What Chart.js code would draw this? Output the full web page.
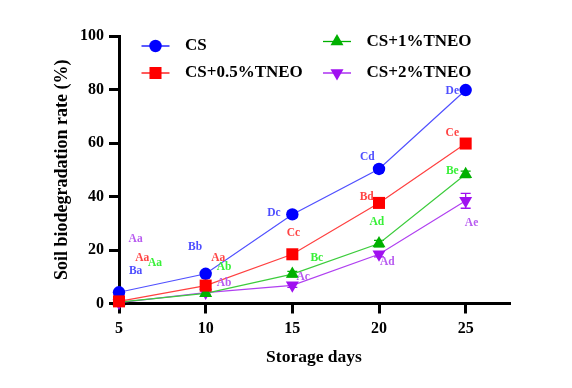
<!DOCTYPE html>
<html>
<head>
<meta charset="utf-8">
<script src="https://cdn.jsdelivr.net/npm/chart.js@4.4.1/dist/chart.umd.min.js"></script>
<style>
  html, body { margin: 0; padding: 0; background: #fff; }
  #wrap { width: 572px; height: 388px; }
</style>
</head>
<body>
<div id="wrap"><canvas id="chart" width="572" height="388"></canvas></div>
<script>
// storage days on the x axis
const days = [5, 10, 15, 20, 25];
const xTicks = [5, 10, 15, 20, 25];
const yTicks = [0, 20, 40, 60, 80, 100];

const seriesNames = ['CS', 'CS+0.5%TNEO', 'CS+1%TNEO', 'CS+2%TNEO'];

// soil biodegradation rate (%)
const csVals   = [4.2, 11.1, 33.3, 50.3, 79.8];
const cs05Vals = [0.8, 6.7, 18.4, 37.6, 59.8];
const cs1Vals  = [0.5, 3.8, 11.0, 22.4, 48.3];
const cs2Vals  = [0.3, 4.1, 6.8, 18.4, 38.4];

// standard deviations (mostly hidden under the markers)
const csErr   = [0.8, 1.0, 1.2, 1.2, 1.0];
const cs05Err = [0.5, 1.0, 1.0, 1.2, 1.2];
const cs1Err  = [0.3, 0.8, 1.0, 1.2, 1.2];
const cs2Err  = [0.2, 0.6, 0.8, 1.0, 2.8];

// significance letters: [text, day, rate]
const csLetters   = [['Ba', 5.96, 12.2], ['Bb', 9.39, 21.0], ['Dc', 13.94, 33.7], ['Cd', 19.33, 54.6], ['De', 24.23, 79.5]];
const cs05Letters = [['Aa', 6.34, 16.9], ['Aa', 10.73, 16.9], ['Cc', 15.06, 26.2], ['Bd', 19.29, 39.9], ['Ce', 24.23, 63.8]];
const cs1Letters  = [['Aa', 7.08, 15.0], ['Ab', 11.06, 13.5], ['Bc', 16.41, 17.1], ['Ad', 19.87, 30.5], ['Be', 24.23, 49.5]];
const cs2Letters  = [['Aa', 5.96, 24.0], ['Ab', 11.06, 7.8], ['Ac', 15.63, 10.0], ['Ad', 20.48, 15.6], ['Ae', 25.34, 30.2]];

const SERIF = "'Liberation Serif', 'Times New Roman', serif";

const styles = [
  { line: '#5050ff', mark: '#0000ff', text: '#4e4eff', shape: 'circle',   r: 6.2, rot: 0,   order: 1 },
  { line: '#ff4040', mark: '#ff0000', text: '#ff4444', shape: 'rect',     r: 8.5, rot: 0,   order: 0 },
  { line: '#3ccc3c', mark: '#00b000', text: '#38f038', shape: 'triangle', r: 7.5, rot: 0,   order: 2 },
  { line: '#b040f0', mark: '#a010f0', text: '#b85cf0', shape: 'triangle', r: 7.5, rot: 180, order: 3 }
];
const allVals = [csVals, cs05Vals, cs1Vals, cs2Vals];
const allErr = [csErr, cs05Err, cs1Err, cs2Err];
const allLetters = [csLetters, cs05Letters, cs1Letters, cs2Letters];

const datasets = seriesNames.map((name, i) => ({
  label: name,
  data: days.map((d, k) => ({ x: d, y: allVals[i][k] })),
  borderColor: styles[i].line,
  borderWidth: 1.2,
  backgroundColor: styles[i].mark,
  pointBackgroundColor: styles[i].mark,
  pointBorderColor: styles[i].mark,
  pointBorderWidth: 0,
  pointStyle: styles[i].shape,
  pointRadius: styles[i].r,
  pointRotation: styles[i].rot,
  tension: 0,
  clip: false,
  order: styles[i].order
}));

function marker(ctx, st, x, y) {
  ctx.save();
  ctx.fillStyle = st.mark;
  ctx.strokeStyle = st.mark;
  Chart.helpers.drawPoint(ctx, { pointStyle: st.shape, radius: st.r, rotation: st.rot, borderWidth: 0 }, x, y);
  ctx.restore();
}

const errorBars = {
  id: 'errorBars',
  beforeDatasetsDraw(chart) {
    const { ctx, scales: { x, y } } = chart;
    ctx.save();
    ctx.lineWidth = 1.3;
    allErr.forEach((errs, i) => {
      ctx.strokeStyle = styles[i].mark;
      errs.forEach((e, k) => {
        const px = x.getPixelForValue(days[k]);
        const yt = y.getPixelForValue(allVals[i][k] + e);
        const yb = y.getPixelForValue(allVals[i][k] - e);
        ctx.beginPath();
        ctx.moveTo(px, yt); ctx.lineTo(px, yb);
        ctx.moveTo(px - 5, yt); ctx.lineTo(px + 5, yt);
        ctx.moveTo(px - 5, yb); ctx.lineTo(px + 5, yb);
        ctx.stroke();
      });
    });
    ctx.restore();
  }
};

const letters = {
  id: 'letters',
  afterDatasetsDraw(chart) {
    const { ctx, scales: { x, y } } = chart;
    ctx.save();
    ctx.font = 'bold 11.5px ' + SERIF;
    ctx.textAlign = 'center';
    ctx.textBaseline = 'middle';
    allLetters.forEach((list, i) => {
      ctx.fillStyle = styles[i].text;
      list.forEach(([t, dx, dy]) => ctx.fillText(t, x.getPixelForValue(dx), y.getPixelForValue(dy)));
    });
    ctx.restore();
  }
};

// 2x2 legend inside the plot
const legendBox = {
  id: 'legendBox',
  afterDraw(chart) {
    const { ctx } = chart;
    const slots = [[141.5, 46], [141.5, 73], [323, 41.5], [323, 73]];
    ctx.save();
    ctx.font = 'bold 17px ' + SERIF;
    ctx.textBaseline = 'middle';
    seriesNames.forEach((name, i) => {
      const [lx, ly] = slots[i];
      ctx.strokeStyle = styles[i].mark;
      ctx.lineWidth = 1.3;
      ctx.beginPath(); ctx.moveTo(lx, ly); ctx.lineTo(lx + 28, ly); ctx.stroke();
      marker(ctx, styles[i], lx + 14, ly);
      ctx.fillStyle = '#000';
      ctx.fillText(name, lx + 43.5, ly);
    });
    ctx.restore();
  }
};

const axisGrid = { drawOnChartArea: false, drawTicks: true, tickLength: 10, tickWidth: 3, tickColor: '#000', color: '#000', lineWidth: 3 };

new Chart(document.getElementById('chart'), {
  type: 'line',
  data: { datasets },
  options: {
    responsive: false,
    animation: false,
    layout: { padding: { left: 0, right: 63, top: 36, bottom: 0 } },
    plugins: { legend: { display: false }, tooltip: { enabled: false } },
    scales: {
      x: {
        type: 'linear', min: 5, max: 27.5,
        afterBuildTicks: s => { s.ticks = xTicks.map(v => ({ value: v })); },
        afterFit: s => { s.height = 84.5; },
        grid: axisGrid,
        border: { display: true, color: '#000', width: 3 },
        ticks: { color: '#000', font: { family: SERIF, size: 16, weight: 'bold' }, padding: 6, maxRotation: 0 },
        title: { display: true, text: 'Storage days', color: '#000', font: { family: SERIF, size: 17.5, weight: 'bold' }, padding: { top: 0, bottom: 20 } }
      },
      y: {
        type: 'linear', min: 0, max: 100,
        afterBuildTicks: s => { s.ticks = yTicks.map(v => ({ value: v })); },
        afterFit: s => { s.width = 119; },
        grid: axisGrid,
        border: { display: true, color: '#000', width: 3 },
        ticks: { color: '#000', font: { family: SERIF, size: 16, weight: 'bold' }, padding: 5 },
        title: { display: true, text: 'Soil biodegradation rate (%)', color: '#000', font: { family: SERIF, size: 18, weight: 'bold' }, padding: { top: 52, bottom: 0 } }
      }
    }
  },
  plugins: [errorBars, letters, legendBox]
});
</script>
</body>
</html>
